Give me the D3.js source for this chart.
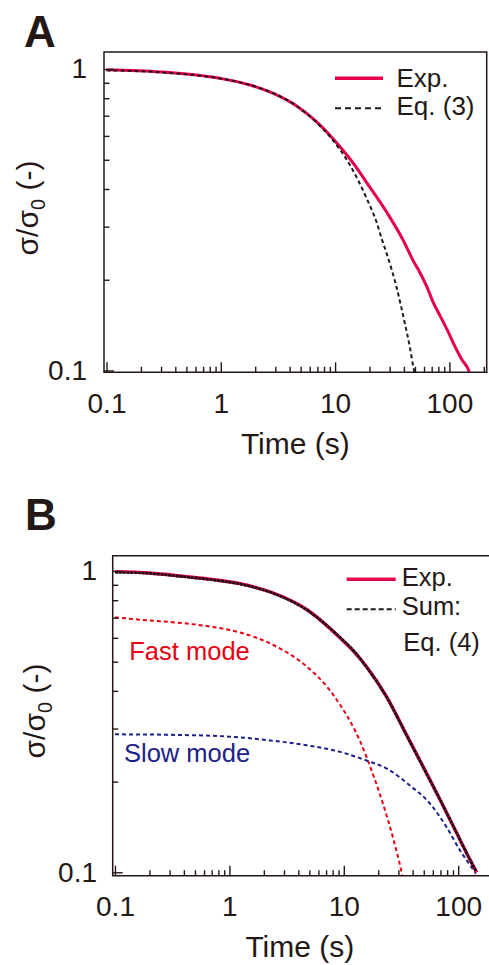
<!DOCTYPE html>
<html>
<head>
<meta charset="utf-8">
<script src="https://cdn.jsdelivr.net/npm/d3@7"></script>
<style>
  html, body { margin: 0; padding: 0; background: #ffffff; }
  svg { display: block; }
  text { font-family: "Liberation Sans", Arial, Helvetica, sans-serif; fill: #231815; }
</style>
</head>
<body>
<svg id="chart" width="489" height="965"></svg>
<script>
// ---------------- DATA ----------------
const xTicks = [0.1, 1, 10, 100];
const xTickLabels = ["0.1", "1", "10", "100"];
const yTicks = [0.1, 1];
const yTickLabels = ["0.1", "1"];
const minorMultipliers = [2, 3, 4, 5, 6, 7, 8, 9];

// Panel A: experiment
const tA_exp = [0.1, 0.3, 1, 1.8, 2.88, 4.61, 6.9, 11, 15, 18.9, 28.3, 39.5, 48.3, 55.3, 63.3, 72.3, 82.7, 97.8, 112, 128, 146, 149];
const sA_exp = [0.995, 0.978, 0.93, 0.885, 0.83, 0.754, 0.668, 0.553, 0.477, 0.42, 0.335, 0.27, 0.231, 0.211, 0.19, 0.168, 0.152, 0.134, 0.12, 0.109, 0.101, 0.099];
// Panel A: Eq. (3)
const tA_eq3 = [0.1, 0.2, 0.5, 1, 2, 3, 4.6, 6.9, 9, 13.5, 18.9, 23.1, 25.6, 28.3, 34.6, 40.8, 45, 48.3, 50];
const sA_eq3 = [0.99, 0.983, 0.96, 0.93, 0.875, 0.826, 0.754, 0.664, 0.597, 0.48, 0.372, 0.31, 0.273, 0.244, 0.188, 0.143, 0.12, 0.103, 0.097];

// Panel B: experiment
const tB_exp = [0.1, 0.2, 0.4, 0.7, 1.24, 2.42, 4.74, 9.27, 12.5, 15.8, 23.7, 35.5, 53, 74, 97, 127, 145];
const sB_exp = [0.995, 0.985, 0.96, 0.938, 0.908, 0.845, 0.745, 0.60, 0.536, 0.481, 0.382, 0.285, 0.213, 0.166, 0.135, 0.11, 0.100];
// Panel B: sum, Eq. (4)
const tB_sum = [0.1, 0.2, 0.4, 0.7, 1.24, 2.42, 4.74, 9.27, 12.5, 15.8, 23.7, 35.5, 53, 74, 97, 127, 143];
const sB_sum = [0.99, 0.982, 0.957, 0.935, 0.905, 0.843, 0.743, 0.602, 0.538, 0.48, 0.381, 0.284, 0.212, 0.166, 0.135, 0.11, 0.101];
// Panel B: fast mode
const tB_fast = [0.1, 0.176, 0.395, 0.7, 1.24, 2.42, 4.74, 7.09, 9.27, 12.5, 13.9, 18.1, 22.1, 27.1, 31.6, 32.3];
const sB_fast = [0.702, 0.688, 0.671, 0.653, 0.625, 0.568, 0.482, 0.414, 0.36, 0.296, 0.272, 0.21, 0.168, 0.129, 0.102, 0.098];
// Panel B: slow mode
const tB_slow = [0.1, 0.3, 1, 2.27, 4.74, 9.27, 15.8, 23.7, 37.9, 56.7, 79.4, 104, 135.5, 143];
const sB_slow = [0.287, 0.286, 0.282, 0.274, 0.264, 0.251, 0.235, 0.221, 0.194, 0.169, 0.141, 0.118, 0.102, 0.099];

// ---------------- STYLE ----------------
const INK = "#231815";
const RED = "#e6004c";
const FAST_RED = "#e60012";
const BLUE = "#1d2088";
const FONT = '"Liberation Sans", Arial, Helvetica, sans-serif';

const svg = d3.select("#chart");
const zip = (ts, vs) => ts.map((t, i) => ({ t: t, v: vs[i] }));

function drawPanel(cfg) {
  const g = svg.append("g");
  const x = d3.scaleLog().domain([0.1, 100]).range(cfg.xRange);
  const y = d3.scaleLog().domain([0.1, 1]).range(cfg.yRange);
  const f = cfg.frame;

  const clipId = "clip" + cfg.id;
  svg.append("defs").append("clipPath").attr("id", clipId)
    .append("rect").attr("x", f.left).attr("y", f.top)
    .attr("width", f.right - f.left).attr("height", f.bottom - f.top);

  // curves
  const line = d3.line().x(d => x(d.t)).y(d => y(d.v)).curve(d3.curveMonotoneX);
  const curves = g.append("g").attr("clip-path", `url(#${clipId})`);
  cfg.series.forEach(s => {
    curves.append("path")
      .attr("d", line(zip(s.t, s.v)))
      .attr("fill", "none")
      .attr("stroke", s.color)
      .attr("stroke-width", s.width)
      .attr("stroke-dasharray", s.dash || null)
      .attr("stroke-linejoin", "round");
  });

  // frame
  g.append("path")
    .attr("d", cfg.framePath)
    .attr("fill", "none").attr("stroke", INK).attr("stroke-width", 1.5);

  // y axis (major)
  const yAxis = g.append("g").attr("transform", `translate(${f.left},0)`)
    .call(d3.axisLeft(y).tickValues(yTicks)
      .tickFormat((d, i) => yTickLabels[i]).tickSize(-10).tickPadding(cfg.yPad));
  // y minor
  const yMinor = [];
  yTicks.slice(0, -1).forEach(d => minorMultipliers.forEach(m => yMinor.push(d * m)));
  const yAxisMinor = g.append("g").attr("transform", `translate(${f.left},0)`)
    .call(d3.axisLeft(y).tickValues(yMinor).tickFormat("").tickSize(-5.5));

  // x axis (major)
  const xAxis = g.append("g").attr("transform", `translate(0,${f.bottom})`)
    .call(d3.axisBottom(x).tickValues(xTicks)
      .tickFormat((d, i) => xTickLabels[i]).tickSize(-10));
  xAxis.selectAll("text").attr("y", cfg.xLabelOffset).attr("dy", 0);
  const xMinor = [];
  xTicks.forEach(d => minorMultipliers.forEach(m => { if (d * m <= cfg.xMinorMax) xMinor.push(d * m); }));
  const xAxisMinor = g.append("g").attr("transform", `translate(0,${f.bottom})`)
    .call(d3.axisBottom(x).tickValues(xMinor).tickFormat("").tickSize(-5.5));

  [yAxis, yAxisMinor, xAxis, xAxisMinor].forEach(a => {
    a.select(".domain").remove();
    a.selectAll("line").attr("stroke", INK).attr("stroke-width", 1.4);
    a.selectAll("text").attr("fill", INK).style("font-family", FONT).style("font-size", "28px");
  });

  // axis titles
  g.append("text")
    .attr("x", (f.left + Math.min(f.right, 487)) / 2)
    .attr("y", cfg.xTitleY)
    .attr("text-anchor", "middle")
    .style("font-size", "30px")
    .text("Time (s)");

  const yt = g.append("text")
    .attr("transform", `translate(${cfg.yTitleX},${cfg.yTitleY}) rotate(-90)`)
    .attr("text-anchor", "middle")
    .style("font-size", "30px");
  yt.append("tspan").text("σ/σ");
  yt.append("tspan").attr("dy", 7).style("font-size", "20px").text("0");
  yt.append("tspan").attr("dy", -7).text(" (-)");

  // panel label
  g.append("text").attr("x", cfg.labelX).attr("y", cfg.labelY)
    .style("font-size", "44px").style("font-weight", "bold").attr("fill", "#000")
    .text(cfg.label);

  return { g, x, y };
}

// ---------------- PANEL A ----------------
const A = drawPanel({
  id: "A",
  label: "A", labelX: 24, labelY: 47,
  xRange: [106.5, 449.4],
  yRange: [370.5, 69],
  frame: { left: 104, right: 486.7, top: 52, bottom: 372.3 },
  framePath: "M104,52H486.7V372.3H104Z",
  yPad: 17,
  xLabelOffset: 40.7,
  xMinorMax: 200,
  xTitleY: 454,
  yTitleX: 38, yTitleY: 208,
  series: [
    { t: tA_exp, v: sA_exp, color: RED, width: 3 },
    { t: tA_eq3, v: sA_eq3, color: INK, width: 2, dash: "4,3" }
  ]
});

// legend A
A.g.append("line").attr("x1", 335).attr("x2", 383).attr("y1", 78.3).attr("y2", 78.3)
  .attr("stroke", RED).attr("stroke-width", 3.5);
A.g.append("text").attr("x", 396.5).attr("y", 86.7).style("font-size", "26px").text("Exp.");
A.g.append("line").attr("x1", 335).attr("x2", 383).attr("y1", 108.3).attr("y2", 108.3)
  .attr("stroke", INK).attr("stroke-width", 2).attr("stroke-dasharray", "6,4");
A.g.append("text").attr("x", 396.5).attr("y", 115).style("font-size", "26px").text("Eq. (3)");

// ---------------- PANEL B ----------------
const B = drawPanel({
  id: "B",
  label: "B", labelX: 25, labelY: 530,
  xRange: [115, 458.2],
  yRange: [872.3, 571],
  frame: { left: 112.7, right: 500, top: 555.7, bottom: 875.7 },
  framePath: "M500,555.7H112.7V875.7H500",
  yPad: 15.7,
  xLabelOffset: 40.5,
  xMinorMax: 200,
  xTitleY: 956.5,
  yTitleX: 45, yTitleY: 711,
  series: [
    { t: tB_fast, v: sB_fast, color: FAST_RED, width: 2, dash: "4,3" },
    { t: tB_slow, v: sB_slow, color: BLUE, width: 2, dash: "4,3" },
    { t: tB_exp, v: sB_exp, color: RED, width: 3.4 },
    { t: tB_sum, v: sB_sum, color: "#111111", width: 2.6, dash: "3,0.8" }
  ]
});

// mode labels
B.g.append("text").attr("x", 129.3).attr("y", 660).style("font-size", "25.5px")
  .attr("fill", FAST_RED).style("fill", FAST_RED).text("Fast mode");
B.g.append("text").attr("x", 124).attr("y", 761.7).style("font-size", "25.5px")
  .attr("fill", BLUE).style("fill", BLUE).text("Slow mode");

// legend B
B.g.append("line").attr("x1", 346.7).attr("x2", 395.7).attr("y1", 579.3).attr("y2", 579.3)
  .attr("stroke", RED).attr("stroke-width", 3.5);
B.g.append("text").attr("x", 401.7).attr("y", 586).style("font-size", "25.5px").text("Exp.");
B.g.append("line").attr("x1", 346.7).attr("x2", 395.7).attr("y1", 609.3).attr("y2", 609.3)
  .attr("stroke", INK).attr("stroke-width", 2).attr("stroke-dasharray", "5,3");
B.g.append("text").attr("x", 401.7).attr("y", 615).style("font-size", "25.5px").text("Sum:");
B.g.append("text").attr("x", 403.3).attr("y", 650.7).style("font-size", "25.5px").text("Eq. (4)");
</script>
</body>
</html>
